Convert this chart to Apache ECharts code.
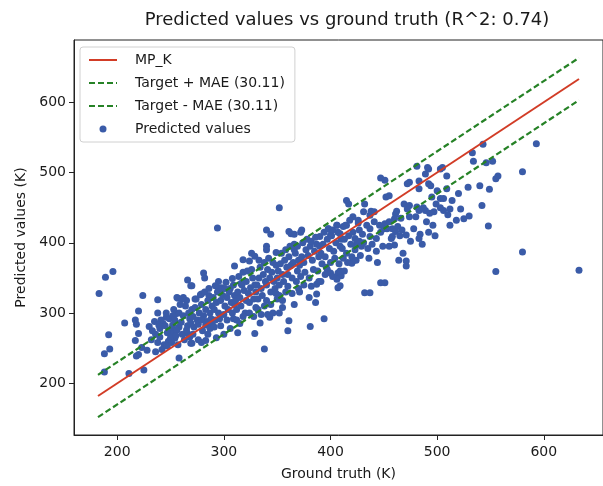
<!DOCTYPE html>
<html>
<head>
<meta charset="utf-8">
<script src="https://cdn.jsdelivr.net/npm/echarts@6/dist/echarts.min.js"></script>
<style>
html,body{margin:0;padding:0;background:#fff;}
#chart{width:603px;height:486px;}
</style>
</head>
<body>
<div id="chart"></div>
<script>
// ---- data ----
const titleText = 'Predicted values vs ground truth (R^2: 0.74)';
const mae = 30.11;
const lineTruth = [182, 633];
const xTicks = [200, 300, 400, 500, 600];
const yTicks = [200, 300, 400, 500, 600];
const xRange = [159.5, 655.5];
const yRange = [126.5, 688.5];

// [ground truth, predicted]
const outlierPoints = [
[189,351],[196,359],[183,328],[224,325],[238,319],[266,347],[269,339],[257,321],[262,322],[265,318],
[220,303],[207,286],[217,290],[218,284],[230,281],[235,288],[238,300],[233,275],[240,278],[246,294],
[249,292],[252,296],[255,299],[245,282],[251,278],[258,280],[192,269],[220,271],[217,261],[238,258],
[252,271],[254,264],[223,251],[193,249],[188,242],[218,239],[220,241],[258,236],[188,216],[211,214],
[225,219],[266,271],[269,257],
[352,450],[294,421],[340,418],[344,412],[363,413],[366,412],[372,415],[366,398],[340,395],[340,390],
[349,386],[326,385],[329,381],[318,376],[324,374],[333,375],[310,367],[281,357],[282,350],[308,349],
[270,339],[292,339],[295,336],[298,334],[273,320],[279,327],[286,325],[313,272],[329,271],[334,286],
[341,298],[343,294],[352,300],[355,308],[361,289],[360,275],[338,249],[270,257],[279,258],[283,261],
[256,322],[261,320],
[447,492],[451,489],[415,460],[417,455],[432,455],[452,465],[455,467],[431,444],[437,439],[441,444],
[421,437],[426,432],[412,423],[415,425],[406,425],[398,420],[441,430],[446,425],[451,427],[455,430],
[458,420],[434,425],[437,420],[361,416],[373,418],[390,409],[400,411],[409,413],[423,406],[424,397],
[427,402],[437,409],[443,406],[421,374],[420,371],[407,357],[410,353],[406,348],[409,339],[397,362],
[400,357],[387,341],[387,327],[394,292],[381,281],[432,329],[437,329],[447,343],[451,343],[471,374],
[471,367],[407,336],
[533,528],[534,516],[543,540],[546,514],[552,516],[529,479],[540,481],[549,476],[542,453],[548,424],
[525,434],[506,446],[512,448],[514,460],[509,477],[503,505],[505,507],[509,495],[491,507],[492,505],
[489,498],[492,484],[494,481],[483,488],[483,477],[474,486],[472,484],[481,509],[500,474],[503,463],
[506,463],[495,465],[497,444],[489,446],[481,451],[483,446],[480,437],[474,437],[472,448],[469,455],
[474,453],[461,441],[460,434],[463,423],[461,416],[458,409],[460,397],[457,406],[471,411],[475,402],
[483,406],[593,541],[580,501],[555,491],[557,495],[580,387],[555,359],[633,361]
];

const bandPoints = [
[232,262],[236,270],[240,266],[243,285],[247,272],[241,290],[248,260],[244,255],[236,245],[242,248],
[250,265],[246,300],[239,283],[228,247],[247,253],
[252,283],[254,290],[256,276],[258,300],[260,287],[262,296],[264,310],[266,282],[268,292],[255,268],
[261,270],[263,262],[267,300],[253,305],[259,312],[265,276],[269,286],[270,305],[257,255],[251,258],[268,266],
[271,295],[273,308],[275,290],[277,300],[279,312],[281,296],[283,305],[285,318],[287,300],[289,310],
[272,280],[276,284],[280,275],[284,288],[288,292],[274,320],[278,326],[282,330],[286,335],[290,322],
[279,290],[283,283],[287,278],[271,270],[276,262],[285,270],[289,285],
[291,305],[293,315],[295,300],[297,318],[299,325],[301,310],[303,322],[305,330],[307,315],[309,340],
[292,290],[296,292],[300,298],[304,305],[308,300],[294,330],[298,336],[302,344],[306,335],[310,325],
[291,280],[297,282],[303,290],[309,292],[300,270],[306,278],[293,265],[310,312],[295,345],[301,335],
[311,318],[313,330],[315,322],[317,340],[319,332],[321,345],[323,328],[325,336],[327,350],[329,340],
[312,305],[316,310],[320,300],[324,315],[328,320],[314,352],[318,358],[322,360],[326,362],[330,330],
[312,290],[318,295],[324,300],[330,308],[315,285],[328,295],[321,318],[316,342],
[331,340],[333,350],[335,335],[337,355],[339,345],[341,362],[343,350],[345,358],[347,345],[349,368],
[332,320],[336,325],[340,318],[344,330],[348,335],[334,365],[338,372],[342,378],[346,372],[350,350],
[332,305],[338,310],[344,312],[350,320],[335,298],[346,300],[340,340],[349,328],
[351,360],[353,370],[355,355],[357,375],[359,365],[361,380],[363,368],[365,372],[367,385],[369,360],
[352,340],[356,345],[360,338],[364,350],[368,345],[354,385],[358,390],[362,395],[366,390],[370,375],
[352,325],[358,330],[364,328],[370,335],[355,318],[366,312],[360,355],[369,395],
[371,368],[373,380],[375,372],[377,390],[379,382],[381,395],[383,375],[385,388],[387,398],[389,380],
[372,352],[376,358],[380,350],[384,362],[388,360],[374,400],[378,405],[382,402],[386,408],[390,395],
[375,340],[382,338],[389,345],[371,330],[380,322],[386,315],
[391,385],[393,398],[395,380],[397,405],[399,392],[401,410],[403,388],[405,400],[407,415],[409,395],
[392,370],[396,365],[400,372],[404,378],[408,370],[394,415],[398,420],[402,418],[406,425],[410,405],
[395,355],[402,352],[409,360],[391,345],
[411,392],[413,405],[415,385],[417,410],[419,398],[421,415],[423,390],[425,402],[427,418],[429,395],
[412,378],[416,372],[420,380],[424,375],[428,382],[414,425],[418,432],[426,428],[430,412],[413,360],
[431,400],[435,392],[439,398],[443,388],[447,415],[449,395],[436,378],[444,372],[438,445],[450,420],
[453,420],[455,395],[465,410],[467,418],[464,375],[468,385],[462,445],[466,435],
[478,420],[484,412],[487,450],[490,430],[493,442],[496,425],[499,455],[486,398],[492,415],[498,410],
[503,450],[510,440],[518,432],[522,448],[530,438],[512,425],[520,470]
];

const scatterData = outlierPoints.concat(bandPoints);

function offsetLine(d) {
  return lineTruth.map(function (t) { return [t, t + d]; });
}

const chart = echarts.init(document.getElementById('chart'), null, {renderer: 'canvas'});
const font = 'DejaVu Sans';
const ink = '#1a1a1a';
const blue = '#3a5ba8';
const red = '#d23c26';
const green = '#268226';
const plusName = 'Target + MAE (' + mae.toFixed(2) + ')';
const minusName = 'Target - MAE (' + mae.toFixed(2) + ')';

chart.setOption({
  animation: false,
  backgroundColor: '#fff',
  title: {
    text: titleText,
    left: 342, top: 6, textAlign: 'center',
    textStyle: {fontFamily: font, fontSize: 18, fontWeight: 'normal', color: ink}
  },
  legend: {
    orient: 'vertical',
    left: 80, top: 47,
    padding: [6, 10, 6, 8],
    itemWidth: 28, itemHeight: 7, itemGap: 9,
    backgroundColor: '#fff',
    borderColor: '#d0d0d0', borderWidth: 1, borderRadius: 3,
    textStyle: {fontFamily: font, fontSize: 14, color: ink, padding: [0, 0, 0, 13]},
    data: [
      {name: 'MP_K', itemStyle: {opacity: 0}},
      {name: plusName, itemStyle: {opacity: 0}},
      {name: minusName, itemStyle: {opacity: 0}},
      {name: 'Predicted values', icon: 'circle'}
    ]
  },
  grid: {
    left: 74, top: 40, width: 536, height: 399,
    show: true, borderColor: '#222', borderWidth: 1, backgroundColor: 'transparent',
    containLabel: false
  },
  xAxis: {
    type: 'value', min: xRange[0], max: xRange[1],
    name: 'Ground truth (K)', nameLocation: 'middle', nameGap: 32,
    nameTextStyle: {fontFamily: font, fontSize: 14, color: ink},
    axisLine: {show: true, onZero: false, lineStyle: {color: '#222', width: 1}},
    axisTick: {show: true, inside: false, length: 5, customValues: xTicks, lineStyle: {color: '#222'}},
    axisLabel: {show: true, margin: 10, customValues: xTicks, fontFamily: font, fontSize: 14, color: ink},
    splitLine: {show: false}
  },
  yAxis: {
    type: 'value', min: yRange[0], max: yRange[1],
    name: 'Predicted values (K)', nameLocation: 'middle', nameGap: 46, nameRotate: 90,
    nameTextStyle: {fontFamily: font, fontSize: 14, color: ink},
    axisLine: {show: true, onZero: false, lineStyle: {color: '#222', width: 1}},
    axisTick: {show: true, inside: false, length: 5, customValues: yTicks, lineStyle: {color: '#222'}},
    axisLabel: {show: true, margin: 8, customValues: yTicks, fontFamily: font, fontSize: 14, color: ink},
    splitLine: {show: false}
  },
  series: [
    {
      name: 'Predicted values', type: 'scatter', data: scatterData,
      symbol: 'circle', symbolSize: 7, z: 2,
      itemStyle: {color: blue, opacity: 1}
    },
    {
      name: 'MP_K', type: 'line', data: offsetLine(0), symbol: 'none', z: 3,
      lineStyle: {color: red, width: 2}, itemStyle: {color: red}
    },
    {
      name: plusName, type: 'line', data: offsetLine(mae), symbol: 'none', z: 3,
      lineStyle: {color: green, width: 2.2, type: [6, 3]}, itemStyle: {color: green}
    },
    {
      name: minusName, type: 'line', data: offsetLine(-mae), symbol: 'none', z: 3,
      lineStyle: {color: green, width: 2.2, type: [6, 3]}, itemStyle: {color: green}
    }
  ]
});
</script>
</body>
</html>
